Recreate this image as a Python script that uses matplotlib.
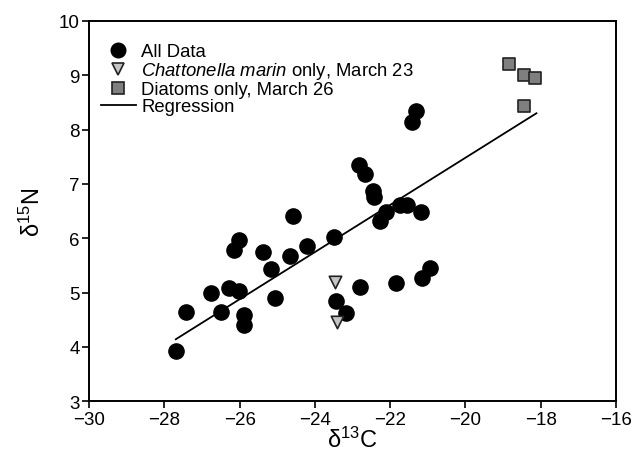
import matplotlib
matplotlib.use("Agg")
import matplotlib.pyplot as plt
from matplotlib.lines import Line2D

plt.rcParams['font.family'] = ['Liberation Sans', 'DejaVu Sans']
plt.rcParams['mathtext.fontset'] = 'custom'
plt.rcParams['mathtext.rm'] = 'Liberation Sans'
plt.rcParams['mathtext.it'] = 'Liberation Sans:italic'

# All data (circles)
all_x = [-27.70, -27.43, -26.77, -26.49, -26.28, -26.03, -25.89, -25.89, -26.14, -26.03,
         -25.37, -25.17, -25.07, -24.67, -24.59, -24.21, -23.50, -23.43, -23.18, -22.81,
         -21.30, -21.42, -22.83, -22.66, -22.46, -22.42, -22.11, -22.26, -21.73, -21.55,
         -21.18, -20.94, -21.16, -21.85]
all_y = [3.92, 4.64, 5.00, 4.64, 5.08, 5.03, 4.59, 4.41, 5.79, 5.96,
         5.75, 5.43, 4.90, 5.67, 6.41, 5.85, 6.02, 4.85, 4.62, 5.10,
         8.34, 8.14, 7.35, 7.18, 6.86, 6.76, 6.49, 6.32, 6.61, 6.61,
         6.49, 5.45, 5.27, 5.18]

# Chattonella marin only, March 23 (triangles)
chat_x = [-23.46, -23.41]
chat_y = [5.20, 4.45]

# Diatoms only, March 26 (squares)
diat_x = [-18.83, -18.44, -18.14, -18.44]
diat_y = [9.20, 9.01, 8.95, 8.43]

# Regression line endpoints
reg_x = [-27.70, -18.11]
reg_y = [4.14, 8.30]

x_ticks = [-30, -28, -26, -24, -22, -20, -18, -16]
x_ticklabels = ['\u221230', '\u221228', '\u221226', '\u221224', '\u221222', '\u221220', '\u221218', '\u221216']
y_ticks = [3, 4, 5, 6, 7, 8, 9, 10]

fig = plt.figure(figsize=(6.39, 4.56), dpi=100)
ax = fig.add_axes([0.1397, 0.118, 0.824, 0.834])

ax.plot(reg_x, reg_y, color='black', lw=1.3, zorder=2)
ax.scatter(all_x, all_y, s=120, marker='o', color='black', zorder=3)
ax.scatter(chat_x, chat_y, s=80, marker='v', facecolor='#c4c4c4', edgecolor='#222222', linewidths=1.2, zorder=4)
ax.scatter(diat_x, diat_y, s=75, marker='s', facecolor='#7f7f7f', edgecolor='#222222', linewidths=1.2, zorder=4)

ax.set_xlim(-30, -16)
ax.set_ylim(3, 10)
ax.set_xticks(x_ticks)
ax.set_xticklabels(x_ticklabels)
ax.set_yticks(y_ticks)
ax.tick_params(axis='both', labelsize=13.5, direction='out', length=5, width=1.2, pad=2)
for s in ax.spines.values():
    s.set_linewidth(1.4)

ax.set_xlabel('\u03b4$^{13}$C', fontsize=17, labelpad=-1)
ax.set_ylabel('\u03b4$^{15}$N', fontsize=17, labelpad=10)

handles = [
    Line2D([], [], marker='o', ls='none', color='black', markersize=10.5),
    Line2D([], [], marker='v', ls='none', markerfacecolor='#c4c4c4', markeredgecolor='#222222', markeredgewidth=1.2, markersize=8.5),
    Line2D([], [], marker='s', ls='none', markerfacecolor='#7f7f7f', markeredgecolor='#222222', markeredgewidth=1.2, markersize=8),
    Line2D([], [], color='black', lw=1.3),
]
labels = ['All Data', r'$\it{Chattonella\ marin}$ only, March 23', 'Diatoms only, March 26', 'Regression']
leg = ax.legend(handles, labels, loc='upper left', frameon=False, fontsize=13.3,
                handlelength=1.9, handletextpad=0.3, labelspacing=0.0,
                borderaxespad=0.3, bbox_to_anchor=(-0.003, 0.975))

fig.savefig('out.png', dpi=100)
